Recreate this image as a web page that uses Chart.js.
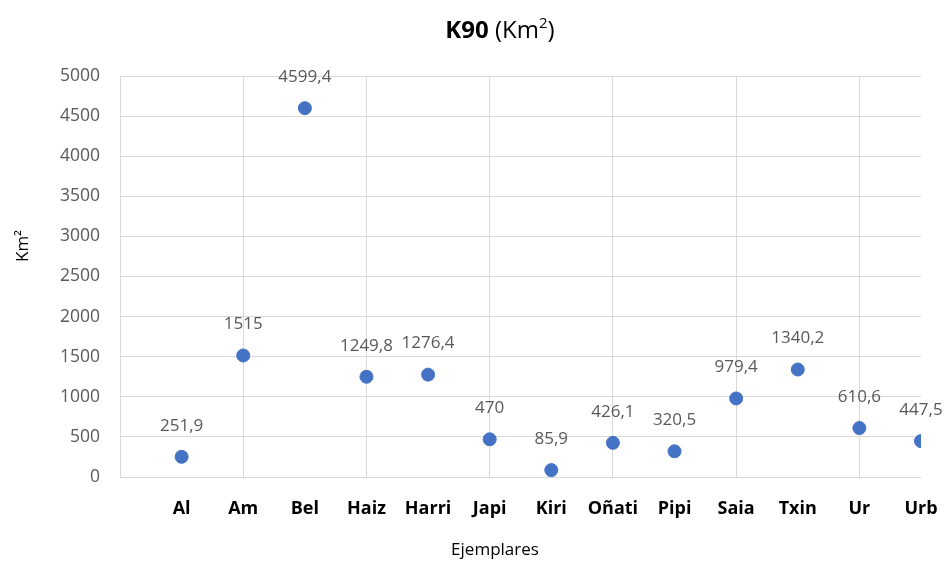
<!DOCTYPE html>
<html>
<head>
<meta charset="utf-8">
<script src="https://cdn.jsdelivr.net/npm/chart.js@4"></script>
<style>
  html, body { margin: 0; padding: 0; background: #fff; }
  #wrap { width: 951px; height: 567px; }
</style>
</head>
<body>
<div id="wrap"><canvas id="k90Chart"></canvas></div>
<script>
// Data
const categories = ['Al', 'Am', 'Bel', 'Haiz', 'Harri', 'Japi', 'Kiri', 'Oñati', 'Pipi', 'Saia', 'Txin', 'Ur', 'Urb'];
const areaValues = [251.9, 1515, 4599.4, 1249.8, 1276.4, 470, 85.9, 426.1, 320.5, 979.4, 1340.2, 610.6, 447.5];
const yTicks = [0, 500, 1000, 1500, 2000, 2500, 3000, 3500, 4000, 4500, 5000];

const FONT = '"Open Sans", sans-serif';

// Title with bold "K90" and superscript 2, plus both axis titles
const titlePlugin = {
    id: 'mixedTitle',
    afterDraw(chart) {
        const ctx = chart.ctx;
        ctx.save();
        ctx.textBaseline = 'alphabetic';
        ctx.fillStyle = '#000';
        const bold = 'bold 24px ' + FONT;
        const normal = '24px ' + FONT;
        const small = '15px ' + FONT;
        ctx.font = bold; const w1 = ctx.measureText('K90 ').width;
        ctx.font = normal; const w2 = ctx.measureText('(Km').width;
        ctx.font = small; const w3 = ctx.measureText('2').width;
        ctx.font = normal; const w4 = ctx.measureText(')').width;
        let x = 500 - (w1 + w2 + w3 + w4) / 2;
        const y = 38;
        ctx.font = bold; ctx.fillText('K90 ', x, y); x += w1;
        ctx.font = normal; ctx.fillText('(Km', x, y); x += w2;
        ctx.font = small; ctx.fillText('2', x, y - 10); x += w3;
        ctx.font = normal; ctx.fillText(')', x, y);

        // axis titles
        ctx.font = '17px ' + FONT;
        ctx.textAlign = 'center';
        ctx.textBaseline = 'middle';
        ctx.fillText('Ejemplares', 495, 550);
        ctx.translate(23, 246);
        ctx.rotate(-Math.PI / 2);
        ctx.fillText('Km²', 0, 0);
        ctx.restore();
    }
};

// Value labels above each point
const valueLabels = {
    id: 'valueLabels',
    afterDatasetsDraw(chart) {
        const ctx = chart.ctx;
        const meta = chart.getDatasetMeta(0);
        ctx.save();
        ctx.font = '17px ' + FONT;
        ctx.fillStyle = '#595959';
        ctx.textAlign = 'center';
        ctx.textBaseline = 'middle';
        meta.data.forEach((pt, i) => {
            const txt = String(areaValues[i]).replace('.', ',');
            ctx.fillText(txt, pt.x, pt.y - 31);
        });
        ctx.restore();
    }
};

const points = areaValues.map((v, i) => ({ x: i + 1, y: v }));

new Chart(document.getElementById('k90Chart'), {
    type: 'scatter',
    data: {
        datasets: [{
            data: points,
            backgroundColor: '#4472C4',
            borderColor: '#4472C4',
            pointRadius: 6.5,
            pointHoverRadius: 6.5
        }]
    },
    options: {
        responsive: true,
        maintainAspectRatio: false,
        animation: false,
        layout: { padding: { top: 76, right: 30, left: 0, bottom: 0 } },
        plugins: {
            legend: { display: false },
            tooltip: { enabled: false }
        },
        scales: {
            x: {
                type: 'linear',
                min: 0,
                max: 13,
                afterFit(scale) {
                    scale.height = 90;
                    scale.paddingLeft = 0;
                    scale.paddingRight = 0;
                },
                border: { display: false },
                grid: {
                    drawTicks: false,
                    color: c => (c.tick && c.tick.value % 2 === 0 && c.tick.value < 13) ? '#d9d9d9' : 'rgba(0,0,0,0)',
                    lineWidth: 1
                },
                ticks: {
                    stepSize: 1,
                    autoSkip: false,
                    maxRotation: 0,
                    padding: 21,
                    color: '#000',
                    font: { family: FONT, size: 18, weight: 'bold' },
                    callback: v => (v >= 1 && v <= 13) ? categories[v - 1] : ''
                }
            },
            y: {
                min: 0,
                max: 5000,
                afterFit(scale) { scale.width = 120; },
                afterBuildTicks(scale) { scale.ticks = yTicks.map(v => ({ value: v })); },
                border: { display: false },
                grid: { drawTicks: false, color: '#d9d9d9', lineWidth: 1 },
                ticks: {
                    padding: 20,
                    color: '#595959',
                    font: { family: FONT, size: 17.5 },
                    callback: v => String(v)
                }
            }
        }
    },
    plugins: [titlePlugin, valueLabels]
});
</script>
</body>
</html>
